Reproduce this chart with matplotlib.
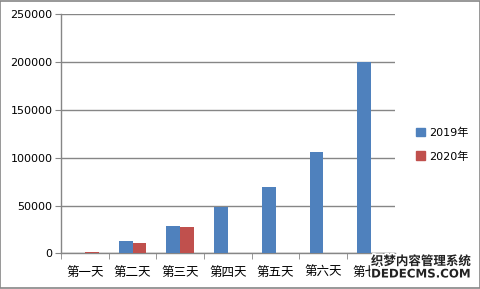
import matplotlib
matplotlib.use("Agg")
import matplotlib.pyplot as plt
import matplotlib.patheffects as pe
from matplotlib.patches import Patch, Rectangle
import numpy as np

plt.rcParams['font.family'] = ['Noto Sans CJK SC', 'DejaVu Sans']

days = ["第一天", "第二天", "第三天", "第四天", "第五天", "第六天", "第七天"]
series_names = ["2019年", "2020年"]
v2019 = [0, 12900, 28900, 48800, 69400, 106400, 200000]
v2020 = [1400, 10800, 27900, 0, 0, 0, 0]
yticks = [0, 50000, 100000, 150000, 200000, 250000]

blue = "#4F81BD"
red = "#C0504D"
grey = "#868686"

fig = plt.figure(figsize=(4.81, 2.89), dpi=100)
ax = fig.add_axes([0.1268, 0.1235, 0.6942, 0.827])

x = np.arange(len(days))
w = 0.29
ax.bar(x - w / 2, v2019, w, color=blue, zorder=3)
ax.bar(x + w / 2, v2020, w, color=red, zorder=3)

ax.set_xlim(-0.5, len(days) - 0.5)
ax.set_ylim(0, 250000)
ax.set_yticks(yticks)
ax.set_yticklabels([str(t) for t in yticks], family='DejaVu Sans', fontsize=8)
ax.yaxis.grid(True, color=grey, linewidth=1, zorder=0)
ax.tick_params(axis='y', length=4, color=grey, pad=2)

ax.set_xticks(x)
ax.set_xticklabels(days, fontsize=9)
ax.tick_params(axis='x', which='major', length=0, pad=9)
ax.set_xticks(np.arange(len(days) + 1) - 0.5, minor=True)
ax.tick_params(axis='x', which='minor', length=4, color=grey)

for s in ['top', 'right']:
    ax.spines[s].set_visible(False)
for s in ['left', 'bottom']:
    ax.spines[s].set_color(grey)
    ax.spines[s].set_linewidth(1)

handles = [Patch(color=blue), Patch(color=red)]
fig.legend(handles, series_names, loc='center left', bbox_to_anchor=(0.845, 0.5),
           frameon=False, handlelength=0.8, handleheight=0.8,
           handletextpad=0.3, labelspacing=1.2,
           prop={'family': ['DejaVu Sans', 'Noto Sans CJK SC'], 'size': 8})

fig.patches.append(Rectangle((0.001, 0.002), 0.997, 0.995, transform=fig.transFigure,
                             fill=False, edgecolor=grey, linewidth=1.2))

# watermark overlay in the bottom right corner
outline = [pe.withStroke(linewidth=2.5, foreground='white')]
fig.text(0.875, 0.095, "织梦内容管理系统", fontsize=9, weight='bold', ha='center',
         va='center', color='#222222', path_effects=outline)
fig.text(0.875, 0.052, "DEDECMS.COM", fontsize=8.5, weight='bold', ha='center',
         va='center', color='#222222', family='DejaVu Sans', path_effects=outline)

fig.savefig("out.png", dpi=100)
